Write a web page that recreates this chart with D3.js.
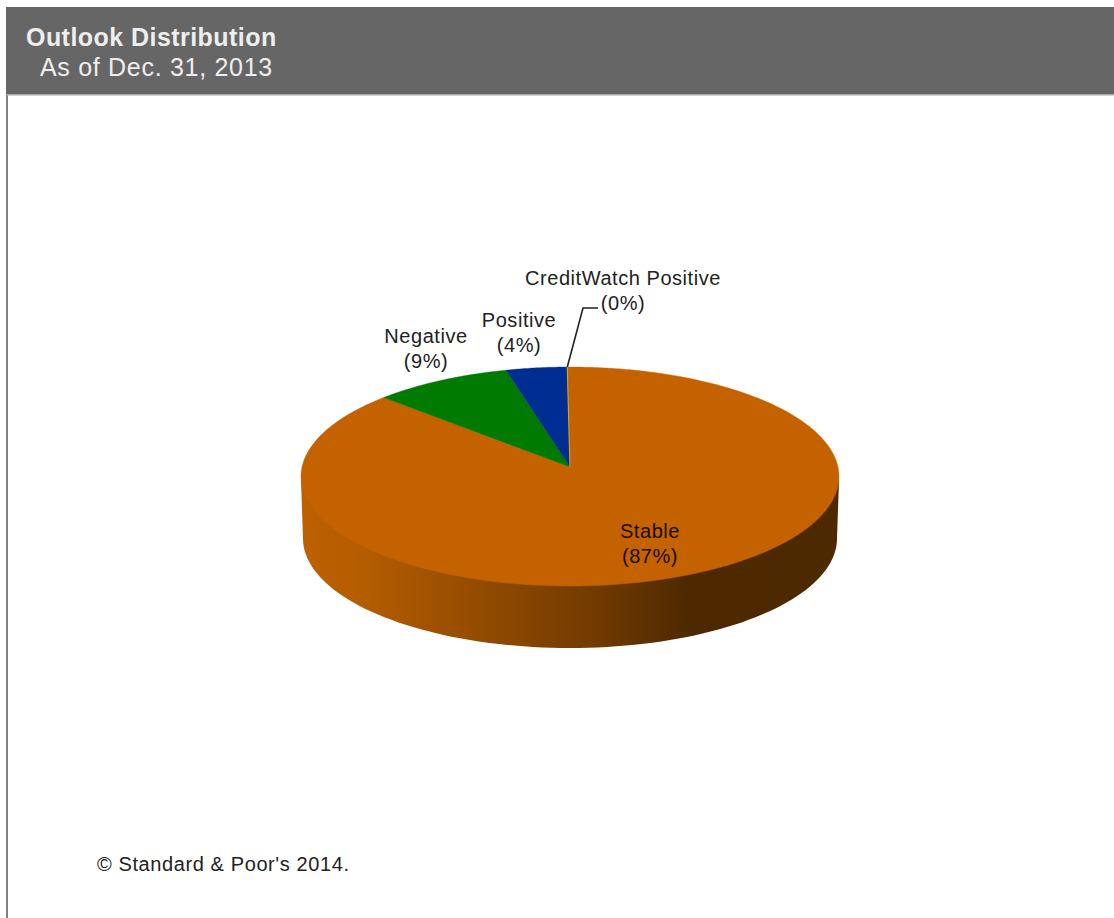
<!DOCTYPE html>
<html>
<head>
<meta charset="utf-8">
<title>Outlook Distribution</title>
<script src="https://cdnjs.cloudflare.com/ajax/libs/d3/7.9.0/d3.min.js"></script>
<style>
  html, body { margin: 0; padding: 0; background: #fff; }
  svg { display: block; }
  text { font-family: "Liberation Sans", Arial, sans-serif; }
</style>
</head>
<body>
<svg id="chart" width="1114" height="918"></svg>
<script>
// Outlook shares, in percent
const categories = ["Stable", "Negative", "Positive", "CreditWatch Positive"];
const shares = [87, 9, 4, 0];
const sliceColors = ["#c46200", "#007a00", "#002d91", "#d6a31a"];
const chartTitle = "Outlook Distribution";
const chartSubtitle = "As of Dec. 31, 2013";
const copyright = "\u00a9 Standard & Poor's 2014.";

// Layout of the tilted disc
const disc = { cx: 570, cy: 476.5, rx: 269, ry: 109.5, depth: 62, inset: 2, hubY: 467 };
const labelSpots = [
  { x: 650, y: 538, fill: "#1a0c00" },
  { x: 426, y: 343, fill: "#222" },
  { x: 519, y: 327, fill: "#222" },
  { x: 623, y: 285, fill: "#222" }
];

const svg = d3.select("#chart");
const defs = svg.append("defs");

// Frame and header band
svg.append("rect").attr("x", 6).attr("y", 95).attr("width", 2).attr("height", 823).attr("fill", "#808080");
svg.append("rect").attr("x", 6).attr("y", 7).attr("width", 1108).attr("height", 88).attr("fill", "#666666");
svg.append("rect").attr("x", 6).attr("y", 94).attr("width", 1108).attr("height", 1.5).attr("fill", "#a8a8a8");
svg.append("text").attr("x", 26).attr("y", 46).attr("fill", "#eeeeee")
  .attr("font-size", 25).attr("letter-spacing", 0.45).attr("font-weight", "bold").text(chartTitle);
svg.append("text").attr("x", 40).attr("y", 76).attr("fill", "#eeeeee")
  .attr("font-size", 25).attr("letter-spacing", 0.7).text(chartSubtitle);

// Perspective mapping: a point on the unit disc lands on the ellipse,
// with the disc centre pushed back to the hub point.
const hubShift = (disc.hubY - disc.cy) / disc.ry;
const hubScale = Math.sqrt(1 - hubShift * hubShift);
function project(angle, r) {
  const X = r * Math.sin(angle);
  const Y = -r * Math.cos(angle);
  const w = 1 + hubShift * Y;
  return [disc.cx + disc.rx * X * hubScale / w, disc.cy + disc.ry * (Y + hubShift) / w];
}

// Side wall, shaded left to right
const wallGradient = defs.append("linearGradient").attr("id", "wall")
  .attr("gradientUnits", "userSpaceOnUse")
  .attr("x1", disc.cx - disc.rx).attr("x2", disc.cx + disc.rx).attr("y1", 0).attr("y2", 0);
[[0, "#bd6100"], [0.12, "#b35c00"], [0.35, "#904a00"], [0.55, "#713a00"], [0.72, "#4e2900"], [1, "#4d2900"]]
  .forEach(([offset, color]) => wallGradient.append("stop").attr("offset", offset).attr("stop-color", color));

const lowerSweep = d3.range(0, 181, 2).map(d => d * Math.PI / 180);
const wallPoints = [[disc.cx - disc.rx, disc.cy + 4]].concat(
  lowerSweep.map(t => [
    disc.cx - (disc.rx - disc.inset) * Math.cos(t),
    disc.cy + disc.depth + disc.ry * Math.sin(t)
  ]),
  [[disc.cx + disc.rx, disc.cy + 4]]
);
svg.append("path").attr("d", d3.line()(wallPoints) + "Z").attr("fill", "url(#wall)");

// Top face, one path per share
const startAngle = -0.011;
const pie = d3.pie().sort(null).value(d => d)
  .startAngle(startAngle).endAngle(startAngle + 2 * Math.PI);
const slices = pie(shares);
const sliceLine = d3.line();

function slicePath(s) {
  const steps = Math.max(1, Math.ceil((s.endAngle - s.startAngle) / 0.01));
  const rim = d3.range(steps + 1).map(i => {
    const a = s.startAngle + (s.endAngle - s.startAngle) * i / steps;
    return project(a, 1);
  });
  return sliceLine([project(0, 0)].concat(rim)) + "Z";
}

svg.append("g").selectAll("path").data(slices).join("path")
  .attr("d", slicePath)
  .attr("fill", (d, i) => sliceColors[i])
  .attr("stroke", (d, i) => sliceColors[i])
  .attr("stroke-width", (d, i) => d.value === 0 ? 1.2 : 0.4)
  .attr("stroke-linejoin", "round");

// Leader for the zero-width slice
const zeroSlice = slices[3];
const leaderStart = project(zeroSlice.endAngle, 1);
svg.append("path")
  .attr("d", d3.line()([leaderStart, [583, 308], [598, 308]]))
  .attr("fill", "none").attr("stroke", "#222").attr("stroke-width", 1.6);

// Two-line labels: name, then share
const labels = svg.append("g").attr("font-size", 20).attr("letter-spacing", 0.55).attr("text-anchor", "middle");
categories.forEach((name, i) => {
  const spot = labelSpots[i];
  const label = labels.append("text").attr("x", spot.x).attr("y", spot.y).attr("fill", spot.fill);
  label.append("tspan").attr("x", spot.x).text(name);
  label.append("tspan").attr("x", spot.x).attr("dy", 24.5).text("(" + shares[i] + "%)");
});

svg.append("text").attr("x", 97).attr("y", 871).attr("fill", "#222")
  .attr("font-size", 20).attr("letter-spacing", 0.6).text(copyright);
</script>
</body>
</html>
